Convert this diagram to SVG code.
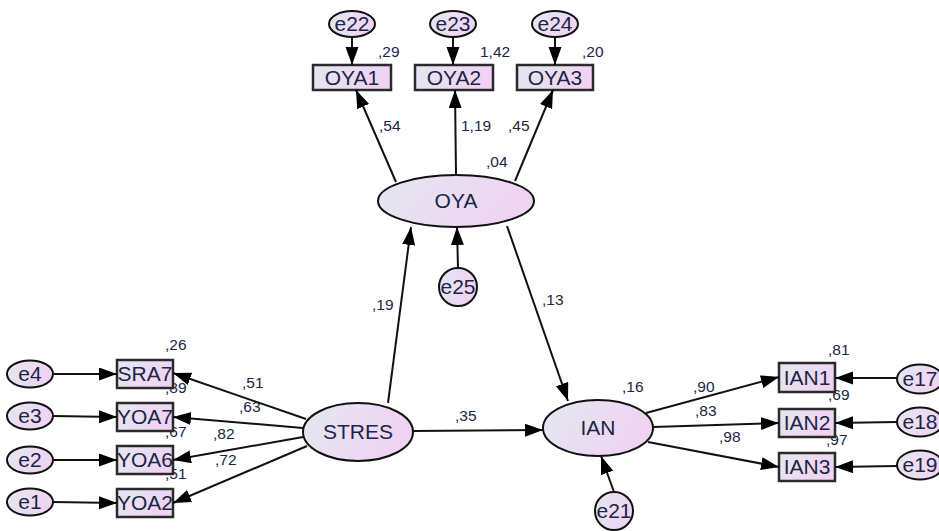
<svg xmlns="http://www.w3.org/2000/svg" width="939" height="531" viewBox="0 0 939 531">
<defs>
<linearGradient id="g" x1="0" y1="0" x2="1" y2="0.3">
<stop offset="0" stop-color="#e3e8f0"/>
<stop offset="1" stop-color="#f0d3f3"/>
</linearGradient>
<marker id="ah" markerUnits="userSpaceOnUse" markerWidth="19" markerHeight="14" refX="18" refY="6.5" orient="auto">
<path d="M0,0 L18,6.5 L0,13 z" fill="#000"/>
</marker>
<style>
.n ellipse,.n circle{fill:url(#g);stroke:#111;stroke-width:2}
.n rect{fill:url(#g);stroke:#2a2a2a;stroke-width:2.5}
.t{font-family:"Liberation Sans",Arial,sans-serif;font-size:21px;fill:#1c2545;text-anchor:middle}
.l{font-family:"Liberation Sans",Arial,sans-serif;font-size:15.5px;fill:#1c2545}
.c line{stroke:#111;stroke-width:2;marker-end:url(#ah)}
</style>
</defs>
<rect width="939" height="531" fill="#fff"/>
<g id="labels">
<text class="l" x="378" y="57">,29</text>
<text class="l" x="480" y="57">1,42</text>
<text class="l" x="582" y="57">,20</text>
<text class="l" x="379" y="131">,54</text>
<text class="l" x="461" y="131">1,19</text>
<text class="l" x="508" y="131">,45</text>
<text class="l" x="486" y="167">,04</text>
<text class="l" x="372" y="310">,19</text>
<text class="l" x="542" y="305">,13</text>
<text class="l" x="455" y="421">,35</text>
<text class="l" x="622" y="392">,16</text>
<text class="l" x="165" y="350">,26</text>
<text class="l" x="165" y="393">,89</text>
<text class="l" x="165" y="437">,67</text>
<text class="l" x="165" y="479">,51</text>
<text class="l" x="242" y="388">,51</text>
<text class="l" x="239" y="412">,63</text>
<text class="l" x="213" y="439">,82</text>
<text class="l" x="215" y="465">,72</text>
<text class="l" x="828" y="355">,81</text>
<text class="l" x="828" y="400">,69</text>
<text class="l" x="826" y="445">,97</text>
<text class="l" x="693" y="392">,90</text>
<text class="l" x="695" y="416">,83</text>
<text class="l" x="719" y="442">,98</text>
</g>
<g id="e22" class="n"><ellipse cx="352" cy="24" rx="23" ry="13"/><text class="t" x="352" y="31">e22</text></g>
<g id="e23" class="n"><ellipse cx="453" cy="24" rx="23" ry="13"/><text class="t" x="453" y="31">e23</text></g>
<g id="e24" class="n"><ellipse cx="555" cy="24" rx="23" ry="13"/><text class="t" x="555" y="31">e24</text></g>
<g id="OYA1" class="n"><rect x="313" y="65" width="78" height="25"/><text class="t" x="352" y="85">OYA1</text></g>
<g id="OYA2" class="n"><rect x="415" y="65" width="78" height="25"/><text class="t" x="454" y="85">OYA2</text></g>
<g id="OYA3" class="n"><rect x="517" y="65" width="76" height="25"/><text class="t" x="555" y="85">OYA3</text></g>
<g id="OYA" class="n"><ellipse cx="456" cy="201" rx="78" ry="26"/><text class="t" x="456" y="208">OYA</text></g>
<g id="e25" class="n"><circle cx="458" cy="287" r="19"/><text class="t" x="458" y="294">e25</text></g>
<g id="STRES" class="n"><ellipse cx="358" cy="432" rx="55" ry="29"/><text class="t" x="358" y="439">STRES</text></g>
<g id="IAN" class="n"><ellipse cx="598" cy="428" rx="55" ry="28"/><text class="t" x="598" y="435">IAN</text></g>
<g id="e21" class="n"><circle cx="614" cy="511" r="19"/><text class="t" x="614" y="518">e21</text></g>
<g id="SRA7" class="n"><rect x="117" y="360" width="56" height="28"/><text class="t" x="145" y="381">SRA7</text></g>
<g id="YOA7" class="n"><rect x="117" y="403" width="56" height="28"/><text class="t" x="145" y="424">YOA7</text></g>
<g id="YOA6" class="n"><rect x="117" y="446" width="56" height="28"/><text class="t" x="145" y="467">YOA6</text></g>
<g id="YOA2" class="n"><rect x="117" y="489" width="56" height="28"/><text class="t" x="145" y="510">YOA2</text></g>
<g id="e4" class="n"><ellipse cx="30" cy="374" rx="23" ry="13.5"/><text class="t" x="30" y="381">e4</text></g>
<g id="e3" class="n"><ellipse cx="30" cy="416" rx="23" ry="13.5"/><text class="t" x="30" y="423">e3</text></g>
<g id="e2" class="n"><ellipse cx="30" cy="460" rx="23" ry="13.5"/><text class="t" x="30" y="467">e2</text></g>
<g id="e1" class="n"><ellipse cx="30" cy="502" rx="23" ry="13.5"/><text class="t" x="30" y="509">e1</text></g>
<g id="IAN1" class="n"><rect x="779" y="363" width="56" height="29"/><text class="t" x="807" y="385">IAN1</text></g>
<g id="IAN2" class="n"><rect x="779" y="409" width="56" height="28"/><text class="t" x="807" y="430">IAN2</text></g>
<g id="IAN3" class="n"><rect x="779" y="453" width="56" height="28"/><text class="t" x="807" y="474">IAN3</text></g>
<g id="e17" class="n"><ellipse cx="920" cy="379" rx="23" ry="14.5"/><text class="t" x="920" y="386">e17</text></g>
<g id="e18" class="n"><ellipse cx="920" cy="422" rx="23" ry="14.5"/><text class="t" x="920" y="429">e18</text></g>
<g id="e19" class="n"><ellipse cx="920" cy="465" rx="23" ry="14.5"/><text class="t" x="920" y="472">e19</text></g>
<g id="connectors" class="c">
<line x1="352" y1="37" x2="352" y2="65"/>
<line x1="453" y1="37" x2="453" y2="65"/>
<line x1="555" y1="37" x2="555" y2="65"/>
<line x1="396" y1="182" x2="356" y2="90"/>
<line x1="456" y1="175" x2="455" y2="90"/>
<line x1="515" y1="181" x2="553" y2="90"/>
<line x1="458" y1="268" x2="457" y2="227"/>
<line x1="388" y1="403" x2="411" y2="227"/>
<line x1="507" y1="226" x2="568" y2="401"/>
<line x1="413" y1="431" x2="543" y2="430"/>
<line x1="614" y1="492" x2="601" y2="456"/>
<line x1="646" y1="413" x2="779" y2="377"/>
<line x1="653" y1="427" x2="779" y2="423"/>
<line x1="648" y1="442" x2="779" y2="467"/>
<line x1="897" y1="378" x2="835" y2="378"/>
<line x1="897" y1="422" x2="835" y2="423"/>
<line x1="897" y1="466" x2="835" y2="467"/>
<line x1="306" y1="419" x2="173" y2="373"/>
<line x1="303" y1="428" x2="173" y2="417"/>
<line x1="303" y1="437" x2="173" y2="460"/>
<line x1="307" y1="446" x2="173" y2="503"/>
<line x1="53" y1="374" x2="117" y2="374"/>
<line x1="53" y1="416" x2="117" y2="417"/>
<line x1="53" y1="460" x2="117" y2="460"/>
<line x1="53" y1="502" x2="117" y2="503"/>
</g>
</svg>
